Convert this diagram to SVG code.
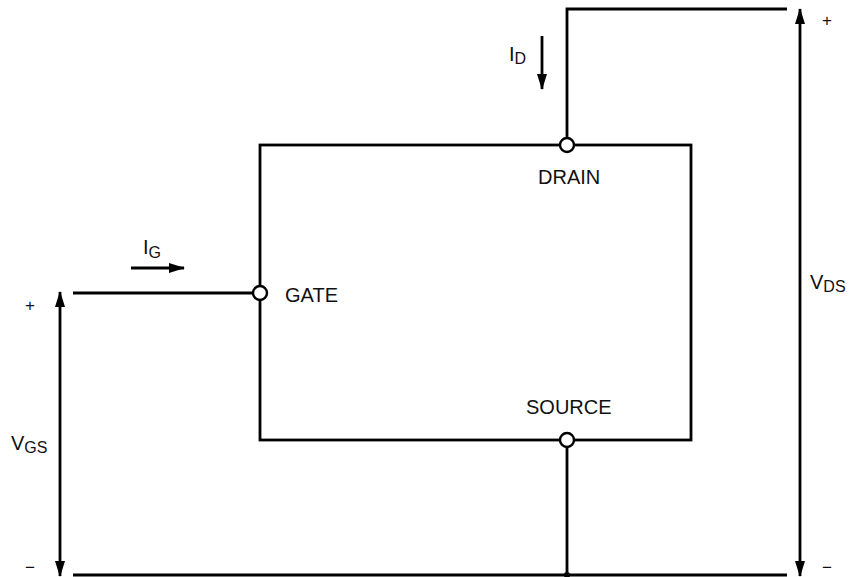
<svg xmlns="http://www.w3.org/2000/svg" width="850" height="577" viewBox="0 0 850 577">
<style>
.w{stroke:#000;stroke-width:2.8;fill:none}
.t{font-family:"Liberation Sans",Arial,sans-serif;font-size:20px;fill:#111}
.s{font-size:16px}
.pm{font-size:17px}
.pin{fill:#fff;stroke:#000;stroke-width:2.4}
</style>
<defs>
<marker id="ah" markerUnits="userSpaceOnUse" markerWidth="16" markerHeight="12" refX="15" refY="5" orient="auto-start-reverse" viewBox="0 0 16 10">
<path d="M0,0 L16,5 L0,10 z" fill="#000"/>
</marker>
</defs>
<g id="device">
<rect class="w" x="260" y="145" width="431" height="295"/>
</g>
<g id="connectors">
<polyline class="w" points="567,145 567,9 787,9"/>
<line class="w" x1="73" y1="293" x2="260" y2="293"/>
<line class="w" x1="567" y1="440" x2="567" y2="575"/>
<line class="w" x1="73" y1="575" x2="787" y2="575"/>
<circle cx="567" cy="575" r="3" fill="#000"/>
<line class="w" x1="60" y1="292" x2="60" y2="576" marker-start="url(#ah)" marker-end="url(#ah)"/>
<line class="w" x1="800" y1="9" x2="800" y2="576" marker-start="url(#ah)" marker-end="url(#ah)"/>
<line class="w" x1="542" y1="36" x2="542" y2="89" marker-end="url(#ah)"/>
<line class="w" x1="131" y1="268" x2="184" y2="268" marker-end="url(#ah)"/>
</g>
<g id="drain">
<circle class="pin" cx="567" cy="145" r="7"/>
<text class="t" x="538" y="184">DRAIN</text>
</g>
<g id="gate">
<circle class="pin" cx="260" cy="293" r="7"/>
<text class="t" x="285" y="302">GATE</text>
</g>
<g id="source">
<circle class="pin" cx="567" cy="440" r="7"/>
<text class="t" x="526" y="414">SOURCE</text>
</g>
<g id="labels">
<text class="t" x="509" y="61">I<tspan class="s" dy="3">D</tspan></text>
<text class="t" x="143" y="254">I<tspan class="s" dy="4">G</tspan></text>
<text class="t" x="11" y="450">V<tspan class="s" dy="3">GS</tspan></text>
<text class="t" x="810" y="289">V<tspan class="s" dy="3">DS</tspan></text>
<text class="t pm" x="25" y="311">+</text>
<text class="t pm" x="822" y="26">+</text>
<text class="t pm" x="25" y="573">−</text>
<text class="t pm" x="822" y="573">−</text>
</g>
</svg>
